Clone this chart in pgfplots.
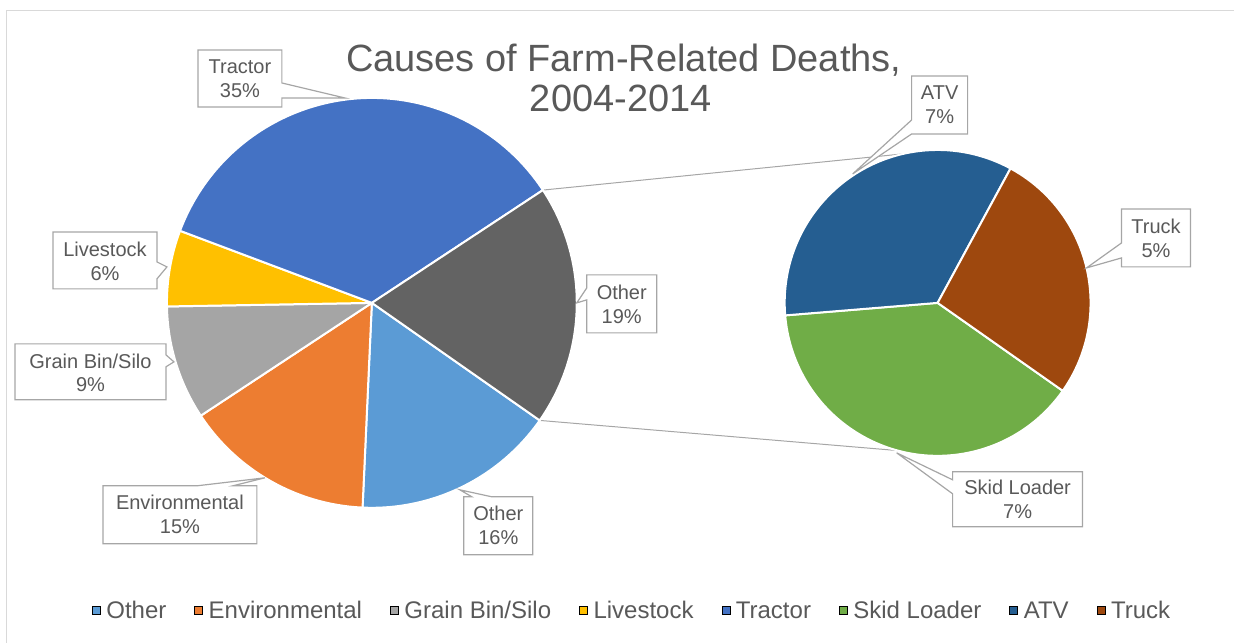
\documentclass[border=0pt]{standalone}
\usepackage{fontspec}
\setmainfont{Liberation Sans}
\usepackage{pgfplots}
\usepackage{pgfplotstable}
\pgfplotsset{compat=1.18}
\usetikzlibrary{calc}

\definecolor{cOther}{HTML}{5B9BD5}
\definecolor{cEnv}{HTML}{ED7D31}
\definecolor{cGrain}{HTML}{A5A5A5}
\definecolor{cLive}{HTML}{FFC000}
\definecolor{cTractor}{HTML}{4472C4}
\definecolor{cRest}{HTML}{636363}
\definecolor{cSkid}{HTML}{70AD47}
\definecolor{cATV}{HTML}{255E91}
\definecolor{cTruck}{HTML}{9E480E}
\definecolor{txt}{HTML}{595959}
\definecolor{edge}{HTML}{A6A6A6}
\definecolor{frame}{HTML}{D9D9D9}

% main pie, clockwise; the last row is split off into the second pie
\pgfplotstableread[col sep=comma]{
name,value,color
Other,16,cOther
Environmental,15,cEnv
Grain Bin/Silo,9,cGrain
Livestock,6,cLive
Tractor,35,cTractor
Other,19,cRest
}\maintab

% second pie: the 19% split into its parts
\pgfplotstableread[col sep=comma]{
name,value,color
Skid Loader,7.4,cSkid
ATV,6.5,cATV
Truck,5.1,cTruck
}\subtab

% #1 table, #2 cx, #3 cy, #4 radius, #5 start angle, #6 total
\newcommand{\drawpie}[6]{%
  \pgfplotstablegetrowsof{#1}%
  \pgfmathtruncatemacro{\lastrow}{\pgfplotsretval-1}%
  \pgfmathsetmacro{\angA}{#5}%
  \pgfplotsforeachungrouped \i in {0,...,\lastrow}{%
    \pgfplotstablegetelem{\i}{value}\of{#1}\let\val\pgfplotsretval
    \pgfplotstablegetelem{\i}{color}\of{#1}\let\col\pgfplotsretval
    \pgfmathsetmacro{\angB}{\angA-360*\val/#6}%
    \edef\slice{\noexpand\fill[\col, draw=white, line width=2pt, line join=round]
      (axis cs:#2,#3) -- ++(\angA:#4pt) arc[start angle=\angA, end angle=\angB, radius=#4pt] -- cycle;}%
    \slice
    \global\let\angA\angB
  }%
}

\newcommand{\lbl}{\fontsize{20}{24}\selectfont}

\begin{document}
\begin{tikzpicture}
\begin{axis}[
  scale only axis, width=1234pt, height=643pt,
  xmin=0, xmax=1234, ymin=0, ymax=643, y dir=reverse,
  axis lines=none, clip=false,
  legend columns=-1,
  legend style={at={(axis description cs:0.512,0.05)}, anchor=center,
    draw=none, fill=none, text=txt, font=\fontsize{24}{28}\selectfont,
    nodes={inner sep=1pt},
    /tikz/every odd column/.append style={column sep=5pt},
    /tikz/every even column/.append style={column sep=27pt}},
  legend image code/.code={\fill[#1] (0pt,-3.5pt) rectangle (8pt,4.5pt);},
]
\path (axis cs:0,0) rectangle (axis cs:1234,643);
\draw[frame, line width=1pt] (axis cs:7,643) -- (axis cs:7,10) -- (axis cs:1234,10);

% connectors between the pies
\pgfplotstablegetelem{5}{value}\of{\maintab}
\pgfmathsetmacro{\topang}{-35+3.6*\pgfplotsretval}
\draw[edge, line width=1pt] ($(axis cs:372,303)+(\topang:205pt)$) -- ($(axis cs:938,303)+(103:153pt)$);
\draw[edge, line width=1pt] ($(axis cs:372,303)+(-35:205pt)$) -- ($(axis cs:938,303)+(-105:153pt)$);

\drawpie{\maintab}{372}{303}{205}{-35}{100}
\drawpie{\subtab}{938}{303}{153}{-35.1}{19}

% title
\node[anchor=base, text=txt, font=\fontsize{38}{40}\selectfont] at (axis cs:624,72) {Causes of Farm-Related Deaths,};
\node[anchor=base, text=txt, font=\fontsize{38}{40}\selectfont] at (axis cs:621,112) {2004-2014};

% data callouts
\tikzset{callout/.style={draw=edge, fill=white, line width=1.2pt, line join=miter}}
\draw[callout] (198,50)--(282,50)--(282,83)--(345,98)--(282,98)--(282,107)--(198,107)--cycle;
\node[text=txt, align=center, font=\lbl] at (240,79) {Tractor\\35\%};
\draw[callout] (53,232)--(157,232)--(157,262)--(167,267)--(157,279)--(157,289)--(53,289)--cycle;
\node[text=txt, align=center, font=\lbl] at (105,261) {Livestock\\6\%};
\draw[callout] (15,344)--(166,344)--(166,355)--(174,362)--(166,367)--(166,400)--(15,400)--cycle;
\node[text=txt, align=center, font=\lbl] at (90.5,373) {Grain Bin/Silo\\9\%};
\draw[callout] (103,486)--(197,486)--(265,478)--(233,486)--(257,486)--(257,544)--(103,544)--cycle;
\node[text=txt, align=center, font=\lbl] at (180,515) {Environmental\\15\%};
\draw[callout] (464,497)--(472,497)--(460,490)--(492,497)--(533,497)--(533,555)--(464,555)--cycle;
\node[text=txt, align=center, font=\lbl] at (498.5,526) {Other\\16\%};
\draw[callout] (587,275)--(657,275)--(657,333)--(587,333)--(587,300)--(577,303)--(587,288)--cycle;
\node[text=txt, align=center, font=\lbl] at (622,304) {Other\\19\%};
\draw[callout] (912,76)--(968,76)--(968,134)--(912,134)--(853,174)--(912,120)--cycle;
\node[text=txt, align=center, font=\lbl] at (940,105) {ATV\\7\%};
\draw[callout] (1122,209)--(1191,209)--(1191,267)--(1122,267)--(1122,258)--(1087,268)--(1122,243)--cycle;
\node[text=txt, align=center, font=\lbl] at (1156.5,238) {Truck\\5\%};
\draw[callout] (953,472)--(1083,472)--(1083,527)--(953,527)--(953,494)--(897,453)--(953,480)--cycle;
\node[text=txt, align=center, font=\lbl] at (1018,499.5) {Skid Loader\\7\%};

% legend
\addlegendimage{fill=cOther}\addlegendentry{Other}
\addlegendimage{fill=cEnv}\addlegendentry{Environmental}
\addlegendimage{fill=cGrain}\addlegendentry{Grain Bin/Silo}
\addlegendimage{fill=cLive}\addlegendentry{Livestock}
\addlegendimage{fill=cTractor}\addlegendentry{Tractor}
\addlegendimage{fill=cSkid}\addlegendentry{Skid Loader}
\addlegendimage{fill=cATV}\addlegendentry{ATV}
\addlegendimage{fill=cTruck}\addlegendentry{Truck}
\end{axis}
\end{tikzpicture}
\end{document}
